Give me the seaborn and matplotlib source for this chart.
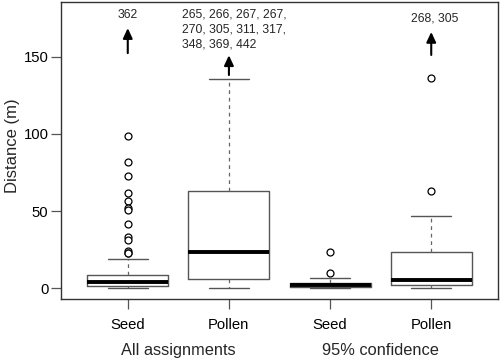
import matplotlib
matplotlib.use("Agg")
import matplotlib.pyplot as plt
import matplotlib.transforms as mtransforms
import seaborn as sns

# ---- data ----
groups = ["All assignments", "95% confidence"]
categories = ["Seed", "Pollen", "Seed", "Pollen"]
whisker_low = [0.0, 0.0, 0.0, 0.0]
q1 = [1.6, 5.8, 0.7, 2.0]
median = [3.8, 23.3, 2.1, 5.2]
q3 = [8.6, 63.2, 3.6, 23.7]
whisker_high = [19.0, 135.6, 6.8, 47.0]
outliers = [
    [99.0, 81.7, 73.0, 61.9, 56.5, 52.0, 50.5, 41.6, 33.4, 31.3, 24.0, 23.2, 22.6],
    [],
    [23.5, 9.8],
    [136.0, 63.3],
]
offscale_labels = [
    "362",
    "265, 266, 267, 267,\n270, 305, 311, 317,\n348, 369, 442",
    "",
    "268, 305",
]
ytick_values = [0, 50, 100, 150]

sns.set_style("white")
plt.rcParams["font.family"] = ["Liberation Sans", "DejaVu Sans"]

fig = plt.figure(figsize=(5, 3.6), dpi=100)
ax = fig.add_axes([0.122, 0.1694, 0.874, 0.825])

positions = list(range(1, len(categories) + 1))
stats = []
for i in range(len(categories)):
    stats.append(dict(whislo=whisker_low[i], q1=q1[i], med=median[i], q3=q3[i],
                      whishi=whisker_high[i], fliers=outliers[i], label=categories[i]))

edge = "#555555"
ax.bxp(stats, positions=positions, widths=0.8, showfliers=True,
       boxprops=dict(color=edge, linewidth=1.0),
       medianprops=dict(color="black", linewidth=2.8, solid_capstyle="butt"),
       whiskerprops=dict(color="#666666", linewidth=0.9, linestyle=(0, (3, 3))),
       capprops=dict(color=edge, linewidth=1.0),
       capwidths=0.4,
       flierprops=dict(marker="o", markersize=5, markerfacecolor="white",
                       markeredgecolor="black", markeredgewidth=0.9, linestyle="none"))

ax.set_xlim(0.34, 4.66)
ax.set_ylim(-6.9, 185.5)
ax.set_yticks(ytick_values)
ax.set_yticklabels([str(v) for v in ytick_values])
ax.set_xticks(positions)
ax.set_xticklabels(categories)
ax.tick_params(axis="both", which="both", direction="out", length=7, width=0.9,
               color=edge, labelsize=10.7, labelcolor="black")
ax.tick_params(axis="y", pad=2)
ax.tick_params(axis="x", pad=7)
ax.tick_params(left=True, bottom=True)

for sp in ax.spines.values():
    sp.set_visible(True)
    sp.set_color("#333333")
    sp.set_linewidth(1.0)

ax.set_ylabel("Distance (m)", fontsize=12)
ax.yaxis.label.set_verticalalignment("center")
ax.yaxis.set_label_coords(-0.111, 0.516)

# group labels under the categories
trans = mtransforms.blended_transform_factory(ax.transData, ax.transAxes)
for g, name in enumerate(groups):
    xc = (positions[2 * g] + positions[2 * g + 1]) / 2
    ax.text(xc, -0.172, name, transform=trans, ha="center", va="center", fontsize=11.8)

# off-scale arrows and values
arrow_tail = [152.4, 138.2, None, 151.2]
arrow_head = [168.6, 151.0, None, 166.1]
label_y = [177.1, 167.9, None, 174.8]
label_dx = [0.0, 0.055, 0.0, 0.03]
label_spacing = [1.2, 1.33, 1.2, 1.2]
for i, lab in enumerate(offscale_labels):
    if not lab:
        continue
    x = positions[i]
    ax.annotate("", xy=(x, arrow_head[i]), xytext=(x, arrow_tail[i]),
                arrowprops=dict(arrowstyle="-|>,head_length=0.6,head_width=0.28",
                                color="black", linewidth=1.5, shrinkA=0, shrinkB=0))
    ax.text(x + label_dx[i], label_y[i], lab, ha="center", va="center",
            multialignment="left", fontsize=8.8,
            linespacing=label_spacing[i])

fig.savefig("out.png", dpi=100)
